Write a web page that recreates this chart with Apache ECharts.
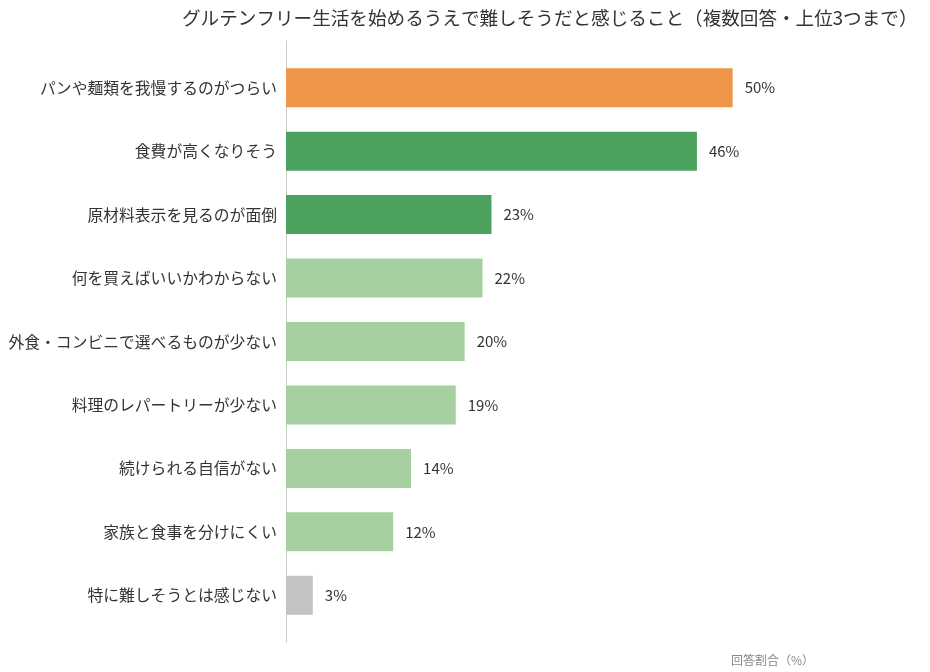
<!DOCTYPE html>
<html>
<head>
<meta charset="utf-8">
<script src="https://cdn.jsdelivr.net/npm/echarts@6/dist/echarts.min.js"></script>
<style>
	html,body{margin:0;padding:0;background:#fff;}
	#main{width:930px;height:672px;}
</style>
</head>
<body>
<div id="main"></div>
<script>
	var categories = ['パンや麺類を我慢するのがつらい','食費が高くなりそう','原材料表示を見るのが面倒','何を買えばいいかわからない','外食・コンビニで選べるものが少ない','料理のレパートリーが少ない','続けられる自信がない','家族と食事を分けにくい','特に難しそうとは感じない'];
	var values = [50, 46, 23, 22, 20, 19, 14, 12, 3];
	var barColors = ['#ee9548','#4ba25e','#4ba25e','#a6d0a0','#a6d0a0','#a6d0a0','#a6d0a0','#a6d0a0','#c3c3c3'];

	var myChart = echarts.init(document.getElementById('main'));
	var font = '"Noto Sans CJK JP", "Noto Sans", sans-serif';
	var option = {
	    backgroundColor:'#fff',
	    textStyle:{fontFamily:font},
	    title:[
	        {
	            text:'グルテンフリー生活を始めるうえで難しそうだと感じること（複数回答・上位3つまで）',
	            left:177,
	            top:4,
	            textStyle:{fontSize:18.6,fontWeight:'normal',color:'#333',fontFamily:font}
	        },
	        {
	            text:'回答割合（%）',
	            left:726,
	            top:649,
	            textStyle:{fontSize:12,fontWeight:'normal',color:'#888',fontFamily:font}
	        }
	    ],
	    grid:[
	        {left:286, width:536, top:56, height:571},
	        {left:286, width:536, top:41, height:601}
	    ],
	    xAxis:[
	        {
	            type:'value',
	            gridIndex:0,
	            min:0,
	            max:60,
	            show:false
	        },
	        {
	            type:'value',
	            gridIndex:1,
	            min:0,
	            max:60,
	            show:false
	        }
	    ],
	    yAxis:[
	        {
	            type:'category',
	            gridIndex:0,
	            inverse:true,
	            data:categories,
	            axisLine:{show:false},
	            axisTick:{show:false},
	            axisLabel:{
	            	fontSize:15.8,
	            	color:'#333',
	            	margin:9,
	            	fontFamily:font
	            }
	        },
	        {
	            type:'value',
	            gridIndex:1,
	            min:0,
	            max:1,
	            axisLine:{show:true,lineStyle:{color:'#cccccc',width:1}},
	            axisTick:{show:false},
	            axisLabel:{show:false},
	            splitLine:{show:false}
	        }
	    ],
	    series:[
	        {
	            type:'bar',
	            xAxisIndex:0,
	            yAxisIndex:0,
	            barWidth:39,
	            data:values.map(function (v, i) {
	            	return {value:v, itemStyle:{color:barColors[i]}};
	            }),
	            label:{
	            	show:true,
	            	position:'right',
	            	distance:12,
	            	formatter:'{c}%',
	            	fontSize:15,
	            	color:'#333',
	            	fontFamily:font
	            },
	            silent:true
	        }
	    ]
	};
	myChart.setOption(option);
</script>
</body>
</html>
